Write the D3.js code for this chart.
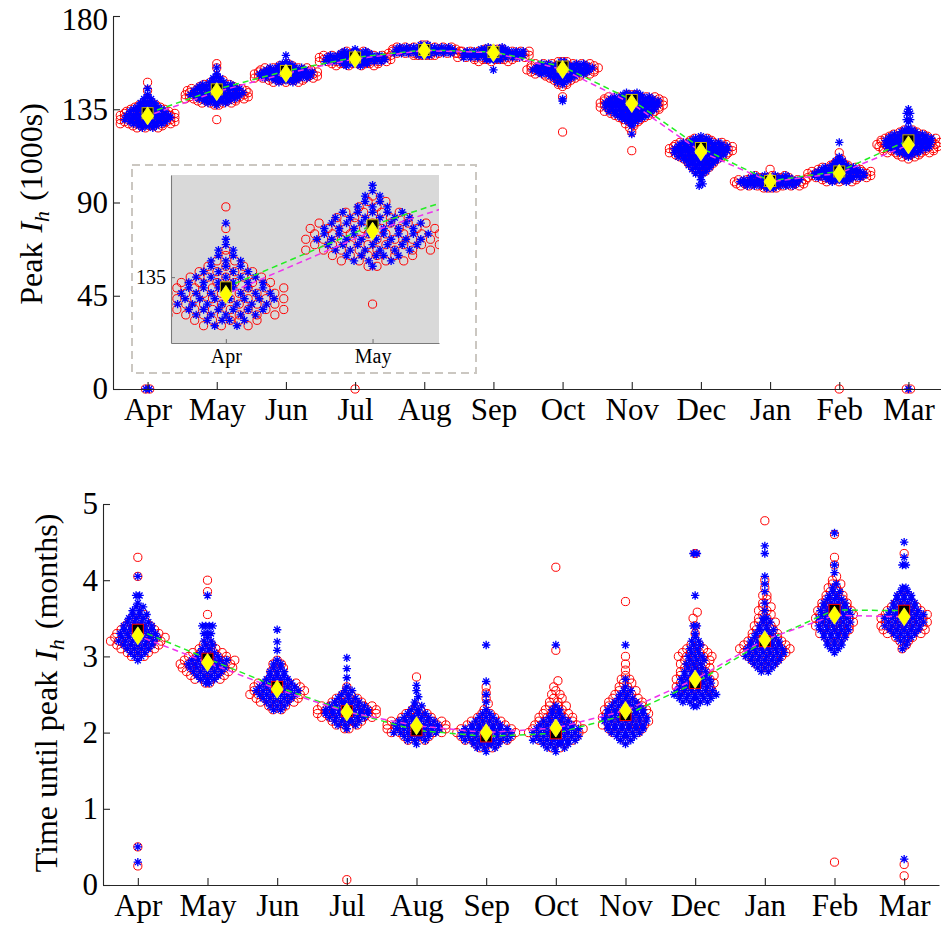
<!DOCTYPE html>
<html>
<head>
<meta charset="utf-8">
<script src="https://cdn.jsdelivr.net/npm/d3@7"></script>
<style>
  body { margin: 0; background: #fff; }
  svg { display: block; }
  text { font-family: "Liberation Serif", "Times New Roman", serif; fill: #000; }
</style>
</head>
<body>
<svg id="chart" width="941" height="925"></svg>
<script>
// ---------- data ----------
const months = ["Apr", "May", "Jun", "Jul", "Aug", "Sep", "Oct", "Nov", "Dec", "Jan", "Feb", "Mar"];

// Peak I_h (1000s): per month, rows of [value, count] for each ensemble
const peakSeriesA = [ // red circles
  [[0,2],[126,3],[127,5],[128,7],[129,7],[130,7],[131,7],[132,7],[133,7],[134,6],[135,5],[136,4],[137,3],[138,2],[139,1],[140,1],[144,1],[148,1]],
  [[130,1],[137,2],[138,4],[139,6],[140,8],[141,8],[142,8],[143,8],[144,8],[145,7],[146,5],[147,4],[148,2],[149,2],[150,1],[155,1],[157,1]],
  [[148,3],[149,6],[150,8],[151,8],[152,8],[153,8],[154,8],[155,5],[156,3],[157,1]],
  [[0,1],[156,4],[157,8],[158,9],[159,9],[160,9],[161,9],[162,5],[163,2]],
  [[161,6],[162,9],[163,9],[164,9],[165,7],[166,2]],
  [[158,3],[159,7],[160,9],[161,9],[162,9],[163,9],[164,5]],
  [[124,1],[141,1],[146,1],[147,2],[148,2],[149,3],[150,4],[151,5],[152,7],[153,9],[154,9],[155,9],[156,9],[157,7],[158,3]],
  [[115,1],[124,1],[126,1],[127,1],[128,2],[129,2],[130,3],[131,4],[132,5],[133,6],[134,7],[135,7],[136,8],[137,8],[138,8],[139,8],[140,8],[141,6],[142,3]],
  [[104,1],[105,2],[106,2],[107,3],[108,3],[109,4],[110,4],[111,5],[112,6],[113,7],[114,8],[115,8],[116,8],[117,8],[118,7],[119,6],[120,4],[121,2]],
  [[97,4],[98,8],[99,9],[100,9],[101,9],[102,7],[103,3],[106,1]],
  [[0,1],[100,3],[101,6],[102,8],[103,8],[104,8],[105,8],[106,6],[107,5],[108,3],[109,2],[110,1],[111,1],[114,1]],
  [[0,2],[111,1],[112,2],[113,4],[114,6],[115,7],[116,7],[117,8],[118,8],[119,8],[120,7],[121,7],[122,6],[123,4],[124,3],[125,2]]
];
const peakSeriesB = [ // blue asterisks
  [[0,2],[126,2],[127,4],[128,5],[129,6],[130,7],[131,7],[132,7],[133,6],[134,6],[135,5],[136,4],[137,3],[138,3],[139,2],[140,2],[141,1],[142,1],[145,1]],
  [[137,1],[138,3],[139,5],[140,6],[141,7],[142,8],[143,8],[144,7],[145,7],[146,6],[147,5],[148,3],[149,2],[150,2],[151,1],[152,1],[155,1]],
  [[148,2],[149,5],[150,7],[151,8],[152,8],[153,8],[154,7],[155,5],[156,3],[157,2],[158,1],[161,1]],
  [[156,2],[157,6],[158,9],[159,9],[160,9],[161,8],[162,6],[163,3],[164,1]],
  [[161,4],[162,9],[163,9],[164,9],[165,8],[166,3]],
  [[154,1],[159,5],[160,9],[161,9],[162,9],[163,9],[164,6],[165,2]],
  [[139,1],[140,1],[147,1],[148,2],[149,2],[150,3],[151,5],[152,7],[153,8],[154,9],[155,9],[156,9],[157,6],[158,2]],
  [[123,1],[127,1],[128,1],[129,2],[130,3],[131,4],[132,5],[133,6],[134,7],[135,7],[136,8],[137,8],[138,8],[139,8],[140,7],[141,6],[142,4],[143,2]],
  [[98,1],[99,1],[101,1],[103,1],[104,2],[105,2],[106,3],[107,3],[108,4],[109,4],[110,5],[111,6],[112,7],[113,7],[114,8],[115,8],[116,8],[117,8],[118,7],[119,6],[120,4],[121,2],[122,1]],
  [[97,3],[98,7],[99,9],[100,9],[101,9],[102,8],[103,4]],
  [[100,2],[101,5],[102,7],[103,8],[104,8],[105,7],[106,6],[107,5],[108,3],[109,2],[110,2],[111,1],[112,1],[119,1]],
  [[0,1],[112,1],[113,2],[114,3],[115,5],[116,6],[117,7],[118,7],[119,7],[120,7],[121,7],[122,6],[123,5],[124,3],[125,2],[126,1],[129,1],[130,2],[133,2],[135,1]]
];
const peakMeanA = [131.8, 143.5, 152.3, 159.3, 163.3, 162.3, 154.2, 137.8, 114.5, 100.0, 104.1, 117.8]; // yellow diamonds
const peakMeanB = [133.1, 144.6, 153.5, 160.0, 163.6, 162.6, 155.6, 139.5, 116.3, 100.4, 105.0, 120.0]; // black squares

// Time until peak I_h (months)
const timeSeriesA = [ // red circles
  [[0.25,1],[0.5,1],[3.0,2],[3.05,4],[3.1,5],[3.15,6],[3.2,7],[3.25,7],[3.3,6],[3.35,5],[3.4,4],[3.45,3],[3.5,2],[3.55,2],[3.6,1],[4.05,1],[4.3,1]],
  [[2.65,2],[2.7,4],[2.75,5],[2.8,6],[2.85,7],[2.9,7],[2.95,7],[3.0,6],[3.05,4],[3.1,3],[3.15,2],[3.2,1],[3.55,1],[3.85,1],[4.0,1]],
  [[2.3,2],[2.35,3],[2.4,5],[2.45,6],[2.5,7],[2.55,7],[2.6,7],[2.65,5],[2.7,3],[2.75,2],[2.8,2],[2.85,2],[2.9,2],[2.95,1]],
  [[0.07,1],[2.05,2],[2.1,3],[2.15,5],[2.2,7],[2.25,8],[2.3,8],[2.35,7],[2.4,5],[2.45,3],[2.5,2],[2.55,1],[2.6,1]],
  [[1.9,2],[1.95,5],[2.0,7],[2.05,8],[2.1,8],[2.15,7],[2.2,5],[2.25,3],[2.3,2],[2.35,1],[2.73,1]],
  [[1.8,2],[1.85,4],[1.9,6],[1.95,7],[2.0,8],[2.05,7],[2.1,6],[2.15,4],[2.2,3],[2.25,2],[2.3,1],[2.38,1],[2.45,1],[2.52,1],[2.6,1]],
  [[1.8,2],[1.85,3],[1.9,5],[1.95,6],[2.0,7],[2.05,7],[2.1,6],[2.15,5],[2.2,5],[2.25,4],[2.3,3],[2.35,3],[2.4,2],[2.45,2],[2.5,2],[2.55,1],[2.6,1],[2.68,1],[3.08,1],[4.17,1]],
  [[1.9,1],[1.95,2],[2.0,4],[2.05,5],[2.1,6],[2.15,6],[2.2,6],[2.25,6],[2.3,6],[2.35,5],[2.4,5],[2.45,4],[2.5,3],[2.55,3],[2.6,2],[2.65,2],[2.7,2],[2.75,1],[2.82,1],[2.9,1],[3.0,1],[3.72,1]],
  [[2.4,1],[2.45,2],[2.5,4],[2.55,5],[2.6,5],[2.65,5],[2.7,5],[2.75,5],[2.8,4],[2.85,4],[2.9,4],[2.95,4],[3.0,5],[3.05,4],[3.1,3],[3.15,2],[3.2,1],[3.3,1],[3.4,1],[3.5,1],[3.58,1],[4.35,1]],
  [[2.85,2],[2.9,3],[2.95,4],[3.0,5],[3.05,6],[3.1,7],[3.15,6],[3.2,5],[3.25,4],[3.3,4],[3.35,3],[3.4,3],[3.45,3],[3.5,2],[3.55,2],[3.6,2],[3.65,2],[3.7,1],[3.75,1],[3.8,2],[3.9,1],[4.0,1],[4.78,1]],
  [[0.3,1],[3.15,1],[3.2,2],[3.25,3],[3.3,4],[3.35,4],[3.4,5],[3.45,5],[3.5,5],[3.55,5],[3.6,5],[3.65,4],[3.7,4],[3.75,3],[3.8,3],[3.85,2],[3.9,2],[3.95,2],[4.0,1],[4.05,1],[4.2,1],[4.3,1],[4.6,1]],
  [[0.12,1],[0.27,1],[3.1,1],[3.15,1],[3.2,2],[3.25,3],[3.3,5],[3.35,6],[3.4,6],[3.45,6],[3.5,6],[3.55,6],[3.6,5],[3.65,4],[3.7,3],[3.75,2],[3.8,2],[3.85,1],[4.35,1]]
];
const timeSeriesB = [ // blue asterisks
  [[0.3,1],[0.5,1],[2.95,1],[3.0,2],[3.05,3],[3.1,4],[3.15,5],[3.2,6],[3.25,6],[3.3,6],[3.35,5],[3.4,5],[3.45,4],[3.5,3],[3.55,3],[3.6,2],[3.65,2],[3.7,1],[3.8,2],[4.05,1]],
  [[2.65,2],[2.7,3],[2.75,4],[2.8,5],[2.85,6],[2.9,6],[2.95,6],[3.0,4],[3.05,3],[3.1,2],[3.15,2],[3.2,2],[3.25,1],[3.3,3],[3.4,4],[3.8,1]],
  [[2.3,2],[2.35,3],[2.4,4],[2.45,5],[2.5,6],[2.55,7],[2.6,6],[2.65,5],[2.7,4],[2.75,3],[2.8,3],[2.85,2],[2.9,2],[2.95,1],[3.08,1],[3.19,1],[3.35,1]],
  [[2.05,1],[2.1,3],[2.15,5],[2.2,6],[2.25,7],[2.3,7],[2.35,6],[2.4,5],[2.45,3],[2.5,2],[2.55,2],[2.6,1],[2.72,1],[2.84,1],[2.98,1]],
  [[1.85,1],[1.9,3],[1.95,5],[2.0,7],[2.05,7],[2.1,7],[2.15,6],[2.2,5],[2.25,3],[2.3,2],[2.35,2],[2.4,1],[2.47,1],[2.55,1],[2.62,1]],
  [[1.75,1],[1.8,3],[1.85,5],[1.9,7],[1.95,8],[2.0,8],[2.05,7],[2.1,5],[2.15,4],[2.2,3],[2.25,2],[2.3,1],[2.4,1],[2.5,1],[2.67,1],[3.15,1]],
  [[1.75,1],[1.8,3],[1.85,5],[1.9,7],[1.95,7],[2.0,7],[2.05,7],[2.1,6],[2.15,4],[2.2,3],[2.25,2],[2.3,2],[2.35,1],[3.15,1]],
  [[1.85,1],[1.9,2],[1.95,4],[2.0,5],[2.05,6],[2.1,6],[2.15,7],[2.2,7],[2.25,6],[2.3,6],[2.35,5],[2.4,4],[2.45,3],[2.5,2],[2.55,2],[2.6,1],[2.7,1],[3.15,1]],
  [[2.35,2],[2.4,4],[2.45,6],[2.5,7],[2.55,6],[2.6,5],[2.65,5],[2.7,5],[2.75,4],[2.8,4],[2.85,3],[2.9,3],[2.95,3],[3.0,3],[3.05,2],[3.1,2],[3.15,2],[3.2,2],[3.25,1],[3.3,1],[3.4,2],[3.8,1],[4.35,2]],
  [[2.8,2],[2.85,3],[2.9,4],[2.95,5],[3.0,6],[3.05,6],[3.1,6],[3.15,5],[3.2,5],[3.25,4],[3.3,3],[3.35,3],[3.4,2],[3.45,2],[3.5,2],[3.6,1],[3.7,1],[3.85,1],[3.95,1],[4.05,1],[4.35,1],[4.45,1]],
  [[3.05,1],[3.1,2],[3.15,3],[3.2,3],[3.25,4],[3.3,4],[3.35,5],[3.4,5],[3.45,5],[3.5,5],[3.55,5],[3.6,5],[3.65,4],[3.7,4],[3.75,3],[3.8,2],[3.85,2],[3.9,1],[3.95,1],[4.1,1],[4.2,1],[4.62,1]],
  [[0.34,1],[3.1,1],[3.15,1],[3.2,2],[3.25,3],[3.3,4],[3.35,5],[3.4,6],[3.45,6],[3.5,6],[3.55,6],[3.6,5],[3.65,4],[3.7,4],[3.75,3],[3.8,3],[3.85,2],[3.9,2],[4.2,2],[4.3,1],[4.5,1]]
];
const timeMeanA = [3.27, 2.92, 2.57, 2.27, 2.09, 2.00, 2.06, 2.29, 2.70, 3.22, 3.54, 3.52]; // yellow diamonds
const timeMeanB = [3.35, 2.97, 2.60, 2.28, 2.03, 1.95, 1.99, 2.23, 2.65, 3.20, 3.61, 3.60]; // black squares

const peakTicks = [0, 45, 90, 135, 180];
const timeTicks = [0, 1, 2, 3, 4, 5];
const insetMonths = ["Apr", "May"];
const insetTicks = [135];

(function () {
  const svg = d3.select("#chart");
  const monthIdx = d3.range(1, 13);
  const FONT = 31;

  // Points whose values fall in the same bin share one horizontal row of slots;
  // rows inside a bin are interleaved so the swarm reads as a single band.
  function spread(rows, month, binOf) {
    const pts = [];
    for (const [, rs] of d3.group(rows, r => binOf(r[0]))) {
      const items = [];
      rs.forEach(([v, n]) => { for (let k = 0; k < n; k++) items.push({ v, key: (k + 0.5) / n }); });
      items.sort((a, b) => a.key - b.key || a.v - b.v);
      const N = items.length;
      items.forEach((it, k) => pts.push({ month, v: it.v, slot: k - (N - 1) / 2 }));
    }
    return pts;
  }
  function starPath(r) {
    const a = r * 0.7071;
    return `M${-r},0H${r}M0,${-r}V${r}M${-a},${-a}L${a},${a}M${-a},${a}L${a},${-a}`;
  }
  const STAR = starPath(4.2);

  function styleAxis(g, size, color) {
    g.select(".domain").attr("stroke", color).attr("stroke-width", 1.1);
    g.selectAll(".tick line").attr("stroke", color).attr("stroke-width", 1.1);
    g.selectAll(".tick text").attr("font-size", size).attr("font-family", "Liberation Serif, serif").attr("fill", "#000");
  }

  // swarms, connecting lines and summary markers drawn into group g
  function drawSwarms(g, x, y, seriesA, seriesB, meanA, meanB, stepA, stepB, binOf, squareEdge) {
    const ptsA = seriesA.flatMap((rows, i) => spread(rows, i + 1, binOf));
    const ptsB = seriesB.flatMap((rows, i) => spread(rows, i + 1, binOf));

    g.append("g").selectAll("circle").data(ptsA).join("circle")
      .attr("cx", d => x(d.month + d.slot * stepA))
      .attr("cy", d => y(d.v))
      .attr("r", 4.1)
      .attr("fill", "none")
      .attr("stroke", "#ff0000")
      .attr("stroke-width", 1);

    g.append("g").selectAll("path").data(ptsB).join("path")
      .attr("transform", d => `translate(${x(d.month + d.slot * stepB)},${y(d.v)})`)
      .attr("d", STAR)
      .attr("fill", "none")
      .attr("stroke", "#0000ff")
      .attr("stroke-width", 1.35);

    const line = d3.line().x((d, i) => x(i + 1)).y(d => y(d));
    g.append("path").datum(meanB).attr("d", line)
      .attr("fill", "none").attr("stroke", "#22ee22").attr("stroke-width", 1.5)
      .attr("stroke-dasharray", "6,4");
    g.append("path").datum(meanA).attr("d", line)
      .attr("fill", "none").attr("stroke", "#ee33ee").attr("stroke-width", 1.5)
      .attr("stroke-dasharray", "6,4").attr("stroke-dashoffset", 3);

    g.append("g").selectAll("rect").data(meanB).join("rect")
      .attr("x", (d, i) => x(i + 1) - 5.5)
      .attr("y", d => y(d) - 5.5)
      .attr("width", 11).attr("height", 11)
      .attr("fill", "#000").attr("stroke", squareEdge).attr("stroke-width", 1);

    g.append("g").selectAll("path").data(meanA).join("path")
      .attr("transform", (d, i) => `translate(${x(i + 1)},${y(d)})`)
      .attr("d", "M0,-9L6,0L0,9L-6,0Z")
      .attr("fill", "#ffff00").attr("stroke", "#ffff40").attr("stroke-width", 0.8);
  }

  function yLabel(g, tx, ty, lead, tail) {
    const t = g.append("text").attr("transform", `translate(${tx},${ty}) rotate(-90)`)
      .attr("text-anchor", "middle").attr("font-size", 32);
    t.append("tspan").text(lead);
    t.append("tspan").attr("font-style", "italic").attr("dx", 10).text("I");
    t.append("tspan").attr("font-style", "italic").attr("font-size", 22).attr("dy", 7).text("h");
    t.append("tspan").attr("dy", -7).attr("dx", 10).text(tail);
  }

  // ---------- top panel: peak I_h ----------
  const xT = d3.scaleLinear().domain([0.5, 12.5]).range([113, 943]);
  const yT = d3.scaleLinear().domain([0, 180]).range([389, 16]);
  const pxT = xT(2) - xT(1);
  const binPeak = v => Math.floor(v / 2);

  const topPanel = svg.append("g");
  drawSwarms(topPanel, xT, yT, peakSeriesA, peakSeriesB, peakMeanA, peakMeanB, 4.2 / pxT, 3.5 / pxT, binPeak, "#c8b000");

  topPanel.append("g").attr("transform", "translate(0,389)")
    .call(d3.axisBottom(xT).tickValues(monthIdx).tickFormat(i => months[i - 1]).tickSize(-7).tickSizeOuter(0).tickPadding(9))
    .call(g => styleAxis(g, FONT, "#262626"));
  topPanel.append("g").attr("transform", "translate(113,0)")
    .call(d3.axisLeft(yT).tickValues(peakTicks).tickFormat(d3.format("d")).tickSize(-7).tickSizeOuter(0).tickPadding(5))
    .call(g => styleAxis(g, FONT, "#262626"))
    .call(g => g.selectAll(".tick text").filter(d => d === 180).attr("dy", "0.42em"));
  yLabel(topPanel, 42, 204, "Peak", "(1000s)");

  // ---------- inset: Apr / May close-up ----------
  const inset = svg.append("g");
  inset.append("rect").attr("x", 132).attr("y", 165).attr("width", 344).attr("height", 208)
    .attr("fill", "#fff").attr("stroke", "#cbc7c1").attr("stroke-width", 2).attr("stroke-dasharray", "8,5");
  const xI = d3.scaleLinear().domain([0.626, 2.453]).range([171, 439]);
  const yI = d3.scaleLinear().domain([122.8, 153.9]).range([343, 175]);
  inset.append("rect").attr("x", 171).attr("y", 175).attr("width", 268).attr("height", 168).attr("fill", "#d9d9d9");
  svg.append("defs").append("clipPath").attr("id", "insetClip")
    .append("rect").attr("x", 171).attr("y", 175).attr("width", 268).attr("height", 168);
  const insetPlot = inset.append("g").attr("clip-path", "url(#insetClip)");
  drawSwarms(insetPlot, xI, yI, peakSeriesA, peakSeriesB, peakMeanA, peakMeanB, 4.2 / pxT, 3.5 / pxT, binPeak, "#c8b000");
  inset.append("g").attr("transform", "translate(0,343)")
    .call(d3.axisBottom(xI).tickValues([1, 2]).tickFormat(i => insetMonths[i - 1]).tickSize(-4).tickSizeOuter(0).tickPadding(6))
    .call(g => styleAxis(g, 20, "#7a7a7a"));
  inset.append("g").attr("transform", "translate(171,0)")
    .call(d3.axisLeft(yI).tickValues(insetTicks).tickSize(-4).tickSizeOuter(0).tickPadding(5))
    .call(g => styleAxis(g, 20, "#7a7a7a"));

  // ---------- bottom panel: time until peak ----------
  const xB = d3.scaleLinear().domain([0.5, 12.5]).range([103, 939]);
  const yB = d3.scaleLinear().domain([0, 5]).range([885, 504]);
  const pxB = xB(2) - xB(1);
  const binTime = v => Math.floor(Math.round(v * 100) / 10);

  const botPanel = svg.append("g");
  drawSwarms(botPanel, xB, yB, timeSeriesA, timeSeriesB, timeMeanA, timeMeanB, 4.2 / pxB, 3.5 / pxB, binTime, "#ff0000");

  botPanel.append("g").attr("transform", "translate(0,885)")
    .call(d3.axisBottom(xB).tickValues(monthIdx).tickFormat(i => months[i - 1]).tickSize(-7).tickSizeOuter(0).tickPadding(9))
    .call(g => styleAxis(g, FONT, "#262626"));
  botPanel.append("g").attr("transform", "translate(103,0)")
    .call(d3.axisLeft(yB).tickValues(timeTicks).tickFormat(d3.format("d")).tickSize(-7).tickSizeOuter(0).tickPadding(5))
    .call(g => styleAxis(g, FONT, "#262626"));
  yLabel(botPanel, 57, 693, "Time until peak", "(months)");
})();
</script>
</body>
</html>
